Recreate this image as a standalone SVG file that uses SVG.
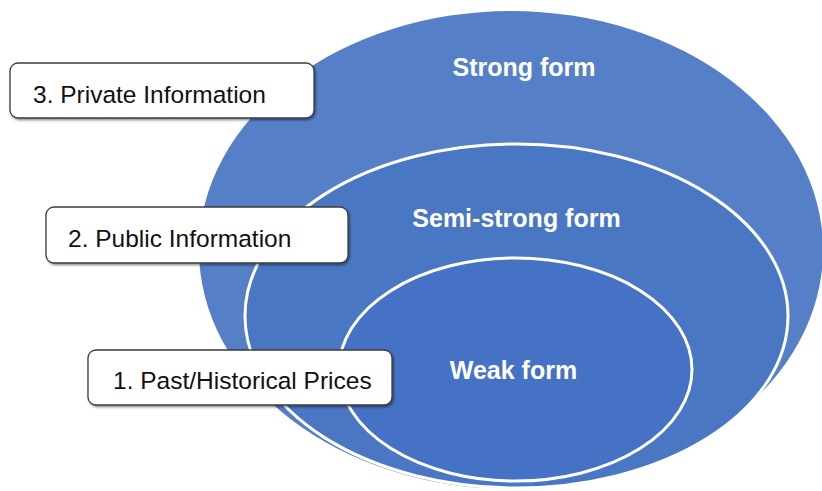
<svg xmlns="http://www.w3.org/2000/svg" width="822" height="491" viewBox="0 0 822 491">
  <defs>
    <filter id="boxShadow" x="-5%" y="-20%" width="110%" height="150%">
      <feDropShadow dx="1.2" dy="1.5" stdDeviation="1" flood-color="#000" flood-opacity="0.45"/>
    </filter>
  </defs>
  <style>
    .ring { stroke: #ffffff; stroke-width: 3; }
    .form { font-family: "Liberation Sans", Arial, sans-serif; font-weight: bold; font-size: 25px; fill: #ffffff; text-anchor: middle; }
    .box { fill: #ffffff; stroke: #3c3c3c; stroke-width: 1.3; filter: url(#boxShadow); }
    .label { font-family: "Liberation Sans", Arial, sans-serif; font-size: 24.5px; fill: #111111; }
  </style>
  <rect width="822" height="491" fill="#ffffff"/>

  <!-- nested efficiency forms -->
  <g id="strong-form">
    <ellipse cx="511" cy="250" rx="312" ry="239" fill="#557fc7"/>
    <text class="form" x="524" y="76">Strong form</text>
  </g>
  <g id="semi-strong-form">
    <ellipse class="ring" cx="516.5" cy="316" rx="271.5" ry="172" fill="#4a77c4"/>
    <text class="form" x="516.5" y="227">Semi-strong form</text>
  </g>
  <g id="weak-form">
    <ellipse class="ring" cx="515.5" cy="369.5" rx="176.5" ry="111.5" fill="#4572c4"/>
    <text class="form" x="513.5" y="379">Weak form</text>
  </g>

  <!-- information set labels -->
  <g id="private-information">
    <rect class="box" x="10" y="63" width="304" height="55" rx="8" ry="8"/>
    <text class="label" x="33" y="103">3. Private Information</text>
  </g>
  <g id="public-information">
    <rect class="box" x="46" y="207" width="302" height="56" rx="8" ry="8"/>
    <text class="label" x="68" y="247">2. Public Information</text>
  </g>
  <g id="past-prices">
    <rect class="box" x="88" y="350" width="304" height="55" rx="8" ry="8"/>
    <text class="label" x="113" y="389">1. Past/Historical Prices</text>
  </g>
</svg>
